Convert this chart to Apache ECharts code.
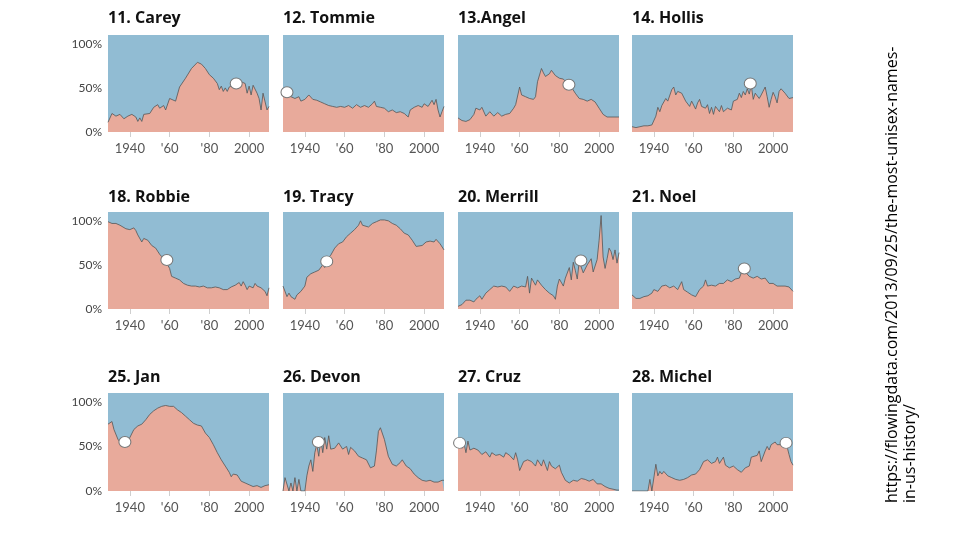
<!DOCTYPE html>
<html>
<head>
<meta charset="utf-8">
<script src="https://cdn.jsdelivr.net/npm/echarts@6/dist/echarts.min.js"></script>
<style>html,body{margin:0;padding:0;background:#fff}#c{width:960px;height:540px}</style>
</head>
<body>
<div id="c"></div>
<script>
const names = ['11. Carey','12. Tommie','13.Angel','14. Hollis','18. Robbie','19. Tracy','20. Merrill','21. Noel','25. Jan','26. Devon','27. Cruz','28. Michel'];

const carey = [[1929,11],[1931,21],[1933,18],[1935,20],[1937,15],[1939,18],[1941,20],[1943,17],[1944,12],[1945,16],[1946,12],[1947,20],[1950,21],[1952,28],[1954,31],[1955,27],[1957,30],[1958,25],[1960,38],[1961,36],[1963,35],[1965,51],[1968,61],[1971,72],[1974,79],[1976,77],[1978,72],[1980,65],[1982,61],[1984,55],[1985,48],[1986,52],[1987,46],[1988,50],[1989,46],[1990,51],[1993,55],[1996,57],[1998,55],[1999,44],[2000,52],[2001,42],[2002,53],[2004,44],[2005,38],[2006,25],[2007,44],[2008,44],[2009,25],[2010,29]];
const tommie = [[1929,44],[1931,42],[1933,40],[1935,38],[1937,40],[1938,35],[1940,37],[1942,42],[1944,37],[1946,36],[1948,34],[1950,32],[1952,30],[1954,29],[1956,28],[1958,29],[1960,28],[1962,30],[1964,27],[1966,31],[1968,28],[1970,30],[1972,28],[1974,32],[1975,35],[1976,29],[1978,28],[1980,27],[1982,23],[1984,25],[1986,22],[1988,23],[1990,21],[1992,17],[1993,25],[1995,28],[1997,30],[1999,28],[2000,32],[2002,29],[2004,36],[2005,31],[2006,37],[2007,25],[2008,17],[2009,23],[2010,29]];
const angel = [[1929,16],[1931,13],[1933,12],[1935,14],[1937,20],[1938,27],[1940,25],[1941,28],[1943,18],[1945,23],[1947,18],[1949,22],[1951,18],[1953,20],[1955,21],[1957,27],[1958,31],[1960,51],[1961,42],[1963,40],[1965,38],[1967,37],[1968,40],[1969,57],[1971,72],[1972,67],[1973,63],[1975,66],[1976,70],[1978,64],[1980,61],[1982,60],[1984,55],[1986,51],[1988,44],[1990,38],[1992,37],[1994,35],[1996,37],[1998,34],[2000,27],[2002,20],[2004,17],[2006,17],[2008,17],[2010,17]];
const hollis = [[1929,6],[1931,5],[1933,6],[1935,7],[1937,7],[1939,8],[1941,18],[1942,28],[1943,23],[1944,30],[1946,38],[1947,35],[1949,48],[1950,51],[1951,42],[1952,46],[1954,44],[1956,35],[1958,29],[1959,35],[1961,26],[1962,33],[1963,37],[1964,29],[1966,27],[1967,31],[1968,21],[1969,28],[1970,20],[1971,29],[1973,23],[1974,30],[1975,23],[1977,27],[1979,25],[1980,35],[1982,37],[1983,44],[1984,39],[1985,46],[1986,42],[1987,49],[1988,43],[1989,53],[1990,37],[1991,44],[1993,38],[1994,42],[1996,51],[1997,40],[1998,28],[1999,37],[2000,45],[2001,40],[2002,33],[2003,46],[2004,49],[2006,44],[2007,42],[2008,38],[2009,40],[2010,39]];
const robbie = [[1929,99],[1931,97],[1932,95],[1933,97],[1935,95],[1936,97],[1938,91],[1940,90],[1942,92],[1943,89],[1944,84],[1945,82],[1946,76],[1947,80],[1949,78],[1951,72],[1953,69],[1955,62],[1957,57],[1958,54],[1960,46],[1961,37],[1963,35],[1965,33],[1967,29],[1969,27],[1971,26],[1973,26],[1975,25],[1977,26],[1979,24],[1981,24],[1983,25],[1985,24],[1987,22],[1989,22],[1991,25],[1993,27],[1995,30],[1996,26],[1997,31],[1998,27],[1999,22],[2000,26],[2002,24],[2003,29],[2004,26],[2006,24],[2008,20],[2009,15],[2010,24]];
const tracy = [[1929,26],[1931,14],[1932,18],[1933,14],[1934,16],[1935,11],[1936,16],[1938,20],[1940,26],[1941,36],[1943,40],[1945,42],[1946,40],[1947,44],[1948,46],[1949,50],[1950,47],[1951,56],[1953,61],[1955,69],[1957,74],[1959,76],[1961,82],[1963,86],[1965,90],[1967,95],[1968,100],[1969,95],[1970,97],[1972,93],[1974,97],[1976,99],[1978,101],[1980,101],[1982,100],[1984,97],[1986,95],[1988,91],[1990,86],[1992,84],[1994,78],[1996,71],[1997,69],[1999,72],[2001,76],[2003,77],[2005,76],[2006,79],[2008,74],[2010,67]];
const merrill = [[1929,3],[1931,5],[1933,10],[1934,8],[1935,10],[1937,8],[1938,11],[1939,9],[1940,15],[1941,11],[1943,18],[1945,22],[1947,26],[1949,25],[1951,26],[1953,25],[1955,20],[1957,26],[1959,24],[1961,26],[1963,25],[1964,37],[1965,18],[1966,35],[1968,27],[1969,33],[1971,27],[1973,22],[1975,18],[1977,15],[1978,11],[1979,26],[1980,34],[1982,26],[1983,35],[1985,47],[1986,33],[1987,53],[1988,44],[1989,34],[1990,54],[1991,52],[1992,41],[1994,50],[1996,57],[1997,42],[1999,56],[2000,78],[2001,106],[2002,59],[2003,46],[2004,57],[2005,69],[2006,65],[2007,56],[2008,67],[2009,52],[2010,64]];
const noel = [[1929,16],[1931,12],[1933,12],[1935,14],[1937,15],[1939,18],[1940,22],[1942,20],[1944,26],[1946,27],[1948,24],[1950,26],[1952,22],[1954,31],[1955,22],[1957,19],[1959,16],[1961,14],[1963,22],[1965,26],[1966,33],[1967,26],[1969,27],[1971,26],[1973,29],[1975,29],[1977,33],[1979,31],[1981,34],[1983,35],[1984,41],[1985,45],[1986,42],[1988,37],[1990,35],[1992,37],[1994,34],[1996,35],[1998,29],[2000,29],[2002,26],[2004,26],[2006,26],[2008,25],[2010,20]];
const jan = [[1929,75],[1931,78],[1932,69],[1934,58],[1936,52],[1937,50],[1938,52],[1940,60],[1942,69],[1944,73],[1946,75],[1948,80],[1950,86],[1952,90],[1954,93],[1956,95],[1958,96],[1960,95],[1962,95],[1964,91],[1966,88],[1968,84],[1970,80],[1972,76],[1974,74],[1976,73],[1978,65],[1980,60],[1982,52],[1984,43],[1986,35],[1988,28],[1990,21],[1991,16],[1992,19],[1994,18],[1996,11],[1998,9],[2000,7],[2002,5],[2004,6],[2006,4],[2007,2],[2008,6],[2010,7]];
const devon = [[1929,0],[1930,15],[1931,13],[1932,0],[1933,9],[1934,0],[1935,15],[1936,0],[1937,13],[1938,0],[1940,0],[1941,17],[1942,28],[1943,35],[1944,22],[1945,43],[1946,52],[1947,39],[1948,58],[1949,43],[1950,60],[1951,47],[1952,62],[1953,47],[1955,48],[1957,54],[1959,47],[1960,45],[1961,50],[1962,41],[1963,49],[1965,45],[1967,39],[1969,37],[1971,35],[1973,26],[1975,28],[1976,45],[1977,67],[1978,71],[1979,69],[1980,58],[1982,39],[1984,30],[1986,28],[1988,32],[1989,35],[1991,28],[1993,25],[1995,19],[1997,15],[1999,12],[2001,11],[2003,12],[2005,10],[2007,10],[2009,12],[2010,12]];
const cruz = [[1929,52],[1930,58],[1931,48],[1932,54],[1933,43],[1934,56],[1935,46],[1937,48],[1939,46],[1941,41],[1943,44],[1945,38],[1946,43],[1948,40],[1950,41],[1952,38],[1953,43],[1955,40],[1957,35],[1958,43],[1959,35],[1960,23],[1962,33],[1964,35],[1966,33],[1968,28],[1969,35],[1971,28],[1972,35],[1974,23],[1975,33],[1976,28],[1978,25],[1980,29],[1981,21],[1983,12],[1985,9],[1987,12],[1989,11],[1991,14],[1993,13],[1995,11],[1997,13],[1999,8],[2001,8],[2003,5],[2005,3],[2007,2],[2009,1],[2010,1]];
const michel = [[1929,0],[1937,0],[1938,13],[1939,0],[1940,0],[1941,30],[1942,17],[1943,22],[1944,19],[1945,22],[1947,17],[1949,15],[1951,13],[1953,12],[1955,13],[1957,15],[1959,18],[1961,19],[1963,24],[1965,33],[1967,35],[1969,31],[1971,33],[1972,38],[1973,31],[1975,38],[1976,29],[1978,26],[1980,28],[1982,24],[1984,21],[1986,26],[1988,28],[1989,38],[1990,36],[1992,40],[1993,45],[1994,33],[1996,45],[1997,50],[1998,46],[1999,52],[2001,55],[2002,52],[2003,54],[2005,52],[2007,50],[2008,41],[2009,33],[2010,29]];

const markers = [[1993.5,55],[1931,45],[1984.8,53.5],[1988.5,55],[1958.6,55.5],[1951,54],[1990.8,55],[1985.5,46],[1937.5,55],[1946.8,55],[1929.8,54],[2006.5,54]];

const xTicks = [1940,1960,1980,2000];
const xTickLabels = ['1940',"'60","'80",'2000'];
const yTicks = [0,50,100];
const yTickLabels = ['0%','50%','100%'];

const seriesData = [carey,tommie,angel,hollis,robbie,tracy,merrill,noel,jan,devon,cruz,michel];

const colLeft = [108,283,458,632];
const rowTop = [35,212,393];
const rowTitleY = [20,199,379];
const W = 161, H = 97;
const BLUE = '#91bcd3', PINK = '#e8aa9b';
const FONT = 'Lato, "Noto Sans", sans-serif';

const grids = [], xAxes = [], yAxes = [], series = [], titles = [];
const yPad = [[0,0,0,0],[10,0,0,0],[0,0,12,0]];
for (let i = 0; i < 12; i++) {
  const r = Math.floor(i/4), c = i%4;
  grids.push({left: colLeft[c], top: rowTop[r], width: W, height: r===2?98:H,
    show: true, backgroundColor: BLUE, borderWidth: 0});
  xAxes.push({gridIndex: i, type: 'value', min: 1929, max: 2010,
    axisLine: {show: false}, splitLine: {show: false},
    axisTick: {show: true, customValues: xTicks, length: 5, lineStyle: {color: '#cfcfcf'}},
    axisLabel: {customValues: xTicks, margin: 10, color: '#555', fontSize: 13, fontFamily: FONT,
      formatter: v => xTickLabels[xTicks.indexOf(v)]}});
  yAxes.push({gridIndex: i, type: 'value', min: 0, max: 110,
    axisLine: {show: false}, splitLine: {show: false}, axisTick: {show: false},
    axisLabel: {show: c===0, customValues: yTicks, margin: 6, color: '#444', fontSize: 12, fontFamily: FONT,
      padding: yPad[r], formatter: v => yTickLabels[yTicks.indexOf(v)]}});
  series.push({type: 'line', xAxisIndex: i, yAxisIndex: i, data: seriesData[i],
    showSymbol: false, symbol: 'none', silent: true, animation: false,
    lineStyle: {color: '#555', width: 0.8},
    areaStyle: {color: PINK, opacity: 1}, z: 2});
  series.push({type: 'scatter', xAxisIndex: i, yAxisIndex: i, data: [markers[i]],
    symbolSize: [12,11], animation: false, silent: true,
    itemStyle: {color: '#ffffff', opacity: 1, borderColor: '#777', borderWidth: 1}, z: 5});
  titles.push({text: names[i], left: colLeft[c], top: rowTitleY[r]-10, padding: 0,
    textStyle: {fontSize: 16, fontWeight: 'bold', color: '#111', fontFamily: '"Open Sans", sans-serif'}});
}

const chart = echarts.init(document.getElementById('c'));
chart.setOption({
  animation: false,
  title: titles,
  grid: grids, xAxis: xAxes, yAxis: yAxes, series: series,
  graphic: [
    {type: 'text', x: 892, y: 503, rotation: Math.PI/2,
      style: {text: 'https://flowingdata.com/2013/09/25/the-most-unisex-names-', fontSize: 16,
        fontFamily: '"Open Sans", sans-serif', fill: '#000', textAlign: 'left', textVerticalAlign: 'middle'}},
    {type: 'text', x: 910, y: 503, rotation: Math.PI/2,
      style: {text: 'in-us-history/', fontSize: 16,
        fontFamily: '"Open Sans", sans-serif', fill: '#000', textAlign: 'left', textVerticalAlign: 'middle'}}
  ]
});
</script>
</body>
</html>
